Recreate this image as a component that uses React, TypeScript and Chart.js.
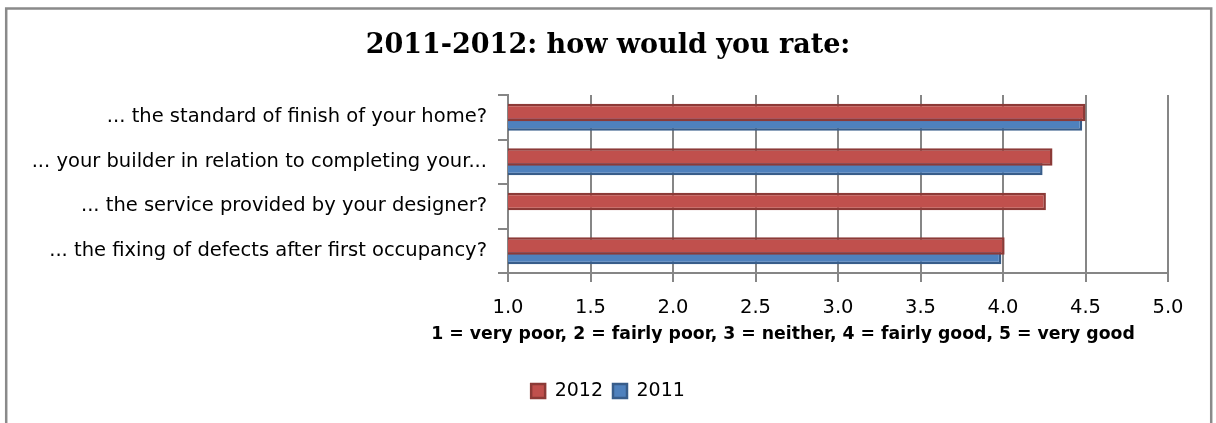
import React, { useEffect, useRef } from "react";
import { Chart, registerables } from "chart.js";

Chart.register(...registerables);

const chartTitle = "2011-2012: how would you rate:";
const categories = [
  "... the standard of finish of your home?",
  "... your builder in relation to completing your...",
  "... the service provided by your designer?",
  "... the fixing of defects after first occupancy?",
];
const seriesLabels = ["2012", "2011"];
const values2012 = [4.5, 4.3, 4.26, 4.01];
const values2011 = [4.48, 4.24, null, 3.99];
const axisMin = 1;
const axisMax = 5;
const axisStep = 0.5;
const axisCaption =
  "1 = very poor, 2 = fairly poor, 3 = neither, 4 = fairly good, 5 = very good";

const SANS = "'DejaVu Sans', sans-serif";
const SERIF = "'DejaVu Serif', serif";
const GRID = "#868686";

const framePlugin = {
  id: "frameAndCaption",
  beforeDraw(chart: any) {
    const ctx = chart.ctx;
    ctx.save();
    ctx.fillStyle = "#ffffff";
    ctx.fillRect(0, 0, chart.width, chart.height);
    ctx.strokeStyle = "#8a8a8a";
    ctx.lineWidth = 2.5;
    ctx.strokeRect(6.2, 8.5, 1205, 440);
    ctx.restore();
  },
  afterDraw(chart: any) {
    const ctx = chart.ctx;
    const ca = chart.chartArea;
    ctx.save();
    ctx.font = `bold 17.3px ${SANS}`;
    ctx.fillStyle = "#000000";
    ctx.textAlign = "center";
    ctx.textBaseline = "middle";
    ctx.fillText(axisCaption, (ca.left + ca.right) / 2 - 55, ca.bottom + 62);
    ctx.restore();
  },
};

export default function App() {
  const canvasRef = useRef<HTMLCanvasElement | null>(null);

  useEffect(() => {
    if (!canvasRef.current) return;
    const barStyle = {
      borderWidth: 2.5,
      borderSkipped: false,
      categoryPercentage: 0.427,
      barPercentage: 1.842,
    };
    const chart = new Chart(canvasRef.current, {
      type: "bar",
      data: {
        labels: categories,
        datasets: [
          {
            label: seriesLabels[0],
            data: values2012,
            backgroundColor: "#C0504D",
            borderColor: "#8C3A37",
            ...barStyle,
          },
          {
            label: seriesLabels[1],
            data: values2011,
            backgroundColor: "#4F81BD",
            borderColor: "#385D8A",
            ...barStyle,
          },
        ],
      },
      options: {
        indexAxis: "y",
        responsive: false,
        animation: false,
        layout: { padding: { left: 0, right: 0, top: 0, bottom: 12.5 } },
        plugins: {
          title: {
            display: true,
            text: chartTitle,
            color: "#000000",
            font: { family: SERIF, size: 27, weight: "bold" },
            padding: { top: 30, bottom: 32.6 },
          },
          legend: {
            display: true,
            position: "bottom",
            labels: {
              color: "#000000",
              font: { family: SANS, size: 19 },
              boxWidth: 14,
              boxHeight: 14,
              padding: 10,
            },
          },
          tooltip: { enabled: false },
        },
        scales: {
          x: {
            type: "linear",
            min: axisMin,
            max: axisMax,
            ticks: {
              stepSize: axisStep,
              color: "#000000",
              font: { family: SANS, size: 19.5 },
              padding: 14.5,
              maxRotation: 0,
              callback: (v: any) => Number(v).toFixed(1),
            },
            grid: {
              color: GRID,
              lineWidth: 2,
              drawTicks: true,
              tickLength: 9,
            },
            border: { color: GRID, width: 2 },
            afterFit: (scale: any) => {
              scale.height = 98.5;
            },
          },
          y: {
            type: "category",
            position: "left",
            ticks: {
              color: "#000000",
              font: { family: SANS, size: 19.5 },
              padding: 11,
              autoSkip: false,
            },
            grid: {
              offset: true,
              drawOnChartArea: false,
              drawTicks: true,
              tickLength: 10,
              color: GRID,
              lineWidth: 2,
            },
            border: { color: GRID, width: 2 },
            afterFit: (scale: any) => {
              scale.width = 508;
            },
          },
          yRight: {
            type: "category",
            position: "right",
            display: true,
            ticks: { display: false },
            grid: { display: false },
            border: { display: false },
            afterFit: (scale: any) => {
              scale.width = 48;
            },
          },
        },
      },
      plugins: [framePlugin],
    } as any);
    return () => chart.destroy();
  }, []);

  return (
    <div style={{ position: "fixed", left: 0, top: 0, width: 1216, height: 423 }}>
      <canvas ref={canvasRef} width={1216} height={423} style={{ width: 1216, height: 423, display: "block" }} />
    </div>
  );
}
